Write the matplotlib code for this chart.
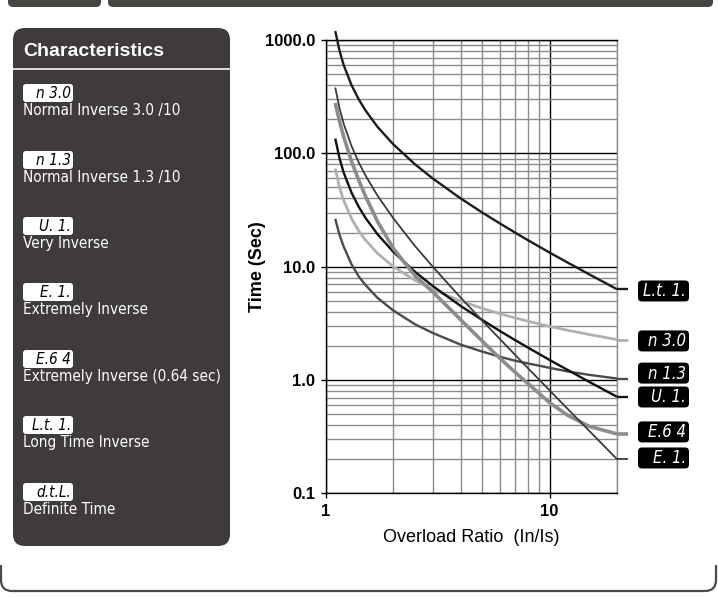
import matplotlib
matplotlib.use('Agg')
import matplotlib.pyplot as plt
from matplotlib.patches import FancyBboxPatch, PathPatch
from matplotlib.path import Path
from matplotlib import transforms, font_manager
from matplotlib.font_manager import FontProperties
from matplotlib.ticker import FixedLocator, FixedFormatter, NullFormatter, LogLocator

# ---------------- data ----------------
ratio = [1.1, 1.15, 1.2, 1.3, 1.4, 1.5, 1.7, 2, 2.5, 3, 4, 5, 6, 7, 8, 10, 12, 15, 20]
t_lti = [1200, 800, 600, 400, 300, 240, 171, 120, 80, 60, 40, 30, 24, 20, 17.1, 13.3, 10.9, 8.57, 6.32]
t_n30 = [73.4, 50.0, 38.3, 26.6, 20.7, 17.2, 13.1, 10.0, 7.57, 6.30, 4.98, 4.28, 3.84, 3.53, 3.30, 2.97, 2.75, 2.52, 2.27]
t_n13 = [26.4, 19.0, 15.0, 10.5, 8.2, 6.9, 5.3, 4.1, 3.1, 2.6, 2.05, 1.78, 1.60, 1.48, 1.40, 1.28, 1.19, 1.11, 1.03]
t_vi = [135, 90, 67.5, 45, 33.8, 27, 19.3, 13.5, 9.0, 6.75, 4.5, 3.38, 2.7, 2.25, 1.93, 1.5, 1.23, 0.964, 0.711]
t_e64 = [278, 190, 140, 85, 58, 42, 25, 14.5, 8.3, 6.0, 3.4, 2.2, 1.55, 1.17, 0.93, 0.63, 0.49, 0.39, 0.334]
t_ei = [381, 248, 182, 116, 83.3, 64, 42.3, 26.7, 15.2, 10.0, 5.33, 3.33, 2.29, 1.67, 1.27, 0.808, 0.559, 0.357, 0.2]

curve_codes = ['L.t. 1.', 'n 3.0', 'n 1.3', 'U. 1.', 'E.6 4', 'E. 1.']
label_y = [6.1, 2.21, 1.15, 0.708, 0.348, 0.205]

left_codes = ['n 3.0', 'n 1.3', 'U. 1.', 'E. 1.', 'E.6 4', 'L.t. 1.', 'd.t.L.']
left_names = ['Normal Inverse 3.0 /10', 'Normal Inverse 1.3 /10', 'Very Inverse',
              'Extremely Inverse', 'Extremely Inverse (0.64 sec)', 'Long Time Inverse',
              'Definite Time']

yticks = [0.1, 1, 10, 100, 1000]
ytick_labels = ['0.1', '1.0', '10.0', '100.0', '1000.0']
xticks = [1, 10]
xtick_labels = ['1', '10']

# ---------------- fonts ----------------
ARIAL = ['Liberation Sans', 'DejaVu Sans']


def _is_regular_weight(w):
    return w in (400, 'normal', 'regular', 'book', 'Regular', 'Book')


def find_condensed(italic=False):
    prefs = ['Liberation Sans Narrow', 'DejaVu Sans Condensed', 'DejaVu Sans', 'Noto Sans',
             'Roboto Condensed', 'Roboto', 'Open Sans', 'Noto Sans Display']
    cands = []
    for f in font_manager.fontManager.ttflist:
        narrow = ('Narrow' in f.name or 'Condensed' in f.name or
                  str(f.stretch) in ('condensed', 'semi-condensed', 'extra-condensed'))
        if not narrow:
            continue
        if str(f.stretch) in ('extra-condensed', 'ultra-condensed'):
            continue
        if not _is_regular_weight(f.weight):
            continue
        if italic != (f.style in ('italic', 'oblique')):
            continue
        cands.append(f)
    for p in prefs:
        for f in cands:
            if f.name == p:
                return f.fname, ('Narrow' in f.name)
    return (cands[0].fname, False) if cands else (None, False)


cond_regular, is_narrow = find_condensed(False)
cond_italic, _ = find_condensed(True)
cond_italic = cond_italic or cond_regular

item_size = 13 if is_narrow else 11
if cond_regular:
    item_fp = FontProperties(fname=cond_regular, size=item_size)
else:
    item_fp = FontProperties(family=ARIAL, size=11)
if cond_italic:
    code_fp = FontProperties(fname=cond_italic, size=11)
    if cond_italic == cond_regular:
        code_fp.set_style('italic')
else:
    code_fp = FontProperties(family=ARIAL, style='italic', size=11)

W, H = 718, 597
fig = plt.figure(figsize=(W / 100, H / 100), dpi=100, facecolor='white')

bg = fig.add_axes([0, 0, 1, 1], zorder=-1)
bg.set_xlim(0, W)
bg.set_ylim(H, 0)
bg.axis('off')


def rbox(ax, x0, y0, x1, y1, r, fc, ec='none', lw=0, z=1):
    p = FancyBboxPatch((x0 + r, y0 + r), (x1 - x0) - 2 * r, (y1 - y0) - 2 * r,
                       boxstyle=f'round,pad={r}', fc=fc, ec=ec, lw=lw, zorder=z)
    ax.add_patch(p)
    return p


# top bar
rbox(bg, 8, -12, 101, 7, 5, '#474541')
rbox(bg, 108, -12, 713, 7, 5, '#474541')

# bottom border stroke
verts = [(1, 565), (1, 580), (1, 591), (12, 591), (705, 591), (716, 591), (716, 580), (716, 565)]
codes = [Path.MOVETO, Path.LINETO, Path.CURVE3, Path.CURVE3, Path.LINETO, Path.CURVE3, Path.CURVE3, Path.LINETO]
bg.add_patch(PathPatch(Path(verts, codes), fc='none', ec='#4a4a4a', lw=1.6))

# left panel
panel_col = '#3e3b3a'
rbox(bg, 13, 28, 230, 546, 12, panel_col)
bg.plot([13, 230], [68.8, 68.8], color='#dcdcdc', lw=1.4, solid_capstyle='butt')
bg.text(23, 56, 'Characteristics', color='white', fontsize=14, fontweight='bold',
        family=ARIAL, ha='left', va='baseline')

tops = [84, 151, 217, 283, 350, 416, 483]
for top, code, name in zip(tops, left_codes, left_names):
    rbox(bg, 23, top, 73, top + 18, 3, 'white')
    bg.text(71, top + 9.5, code, color='black', fontproperties=code_fp,
            ha='right', va='center')
    bg.text(23, top + 31, name, color='white', fontproperties=item_fp,
            ha='left', va='baseline')

# ---------------- main chart ----------------
x0, x1 = 326, 617
y0, y1 = 40, 493.3
ax = fig.add_axes([x0 / W, 1 - y1 / H, (x1 - x0) / W, (y1 - y0) / H])
ax.patch.set_alpha(0)
ax.set_xscale('log')
ax.set_yscale('log')
ax.set_xlim(1, 20)
ax.set_ylim(0.1, 1000)

ax.xaxis.set_major_locator(FixedLocator(xticks))
ax.xaxis.set_major_formatter(FixedFormatter(xtick_labels))
ax.xaxis.set_minor_locator(LogLocator(base=10, subs=range(2, 10)))
ax.xaxis.set_minor_formatter(NullFormatter())
ax.yaxis.set_major_locator(FixedLocator(yticks))
ax.yaxis.set_major_formatter(FixedFormatter(ytick_labels))
ax.yaxis.set_minor_locator(LogLocator(base=10, subs=range(2, 10)))
ax.yaxis.set_minor_formatter(NullFormatter())

ax.grid(which='minor', color='#8c8c8c', lw=1.0)
ax.grid(which='major', color='black', lw=1.0)
ax.set_axisbelow(True)
for s in ['left', 'top', 'bottom']:
    ax.spines[s].set_color('black')
    ax.spines[s].set_linewidth(1.0)
ax.spines['right'].set_color('#8c8c8c')
ax.spines['right'].set_linewidth(1.0)

ax.tick_params(which='major', length=3.5, width=1.0, color='black', pad=4.5)
ax.tick_params(which='minor', length=0)
for lab in ax.get_xticklabels() + ax.get_yticklabels():
    lab.set_fontfamily(ARIAL)
    lab.set_fontweight('bold')
    lab.set_fontsize(12)

ax.set_xlabel('Overload Ratio  (In/Is)', family=ARIAL, fontsize=13, labelpad=7)
ax.set_ylabel('Time (Sec)', family=ARIAL, fontsize=13, fontweight='bold')
ax.yaxis.set_label_coords(-0.206, 0.5)

series = [t_lti, t_n30, t_n13, t_vi, t_e64, t_ei]
colors = ['#1c1c1c', '#b0b0b0', '#4a4a4a', '#111111', '#8c8c8c', '#3a3a3a']
widths = [1.7, 2.0, 1.7, 1.7, 2.6, 1.3]
stub = transforms.blended_transform_factory(ax.transAxes, ax.transData)
for vals, c, lw in zip(series, colors, widths):
    ax.plot(ratio, vals, color=c, lw=lw, clip_on=False, zorder=3, solid_capstyle='butt')
    ax.plot([1.0, 1.038], [vals[-1], vals[-1]], color=c, lw=lw, transform=stub,
            clip_on=False, zorder=3, solid_capstyle='butt')

# right-hand code badges, positioned from data values
code_fp_r = code_fp.copy()
code_fp_r.set_size(12)
for val, code in zip(label_y, curve_codes):
    yd = ax.transData.transform((1, val))[1]
    ypx = H - yd
    rbox(bg, 638, ypx - 10.5, 689, ypx + 10.5, 4, 'black')
    bg.text(686, ypx + 0.5, code, color='white', fontproperties=code_fp_r,
            ha='right', va='center')

fig.savefig('out.png', dpi=100, facecolor='white')
